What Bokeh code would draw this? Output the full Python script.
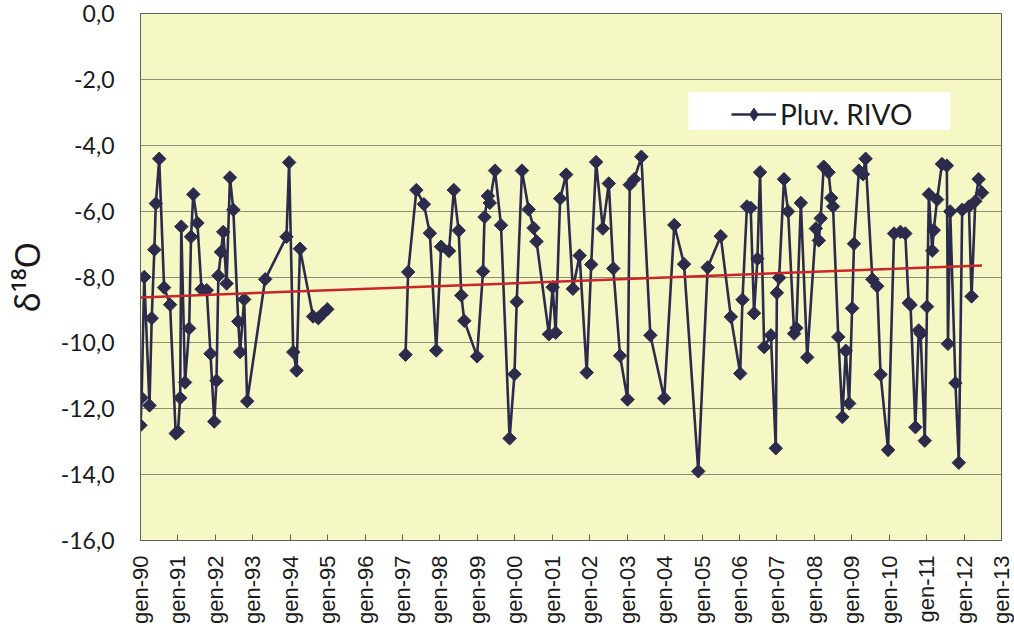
import math
from bokeh.plotting import figure
from bokeh.models import (FixedTicker, Range1d, BoxAnnotation, Legend,
                          LegendItem, ColumnDataSource)
from bokeh.embed import file_html
from bokeh.resources import INLINE

# ---- data (decimal years, delta 18O permil) ----
years_a = [1990.00, 1990.03, 1990.10, 1990.24, 1990.30, 1990.37, 1990.41, 1990.50,
           1990.63, 1990.79, 1990.94, 1991.00, 1991.06, 1991.09, 1991.19, 1991.30,
           1991.35, 1991.41, 1991.52, 1991.63, 1991.77, 1991.87, 1991.97, 1992.03,
           1992.08, 1992.15, 1992.21, 1992.30, 1992.39, 1992.48, 1992.61, 1992.66,
           1992.77, 1992.85, 1993.33, 1993.90, 1993.97, 1994.08, 1994.17, 1994.26,
           1994.61, 1994.75, 1994.88, 1994.99]
d18o_a = [-12.50, -11.67, -8.00, -11.90, -9.25, -7.17, -5.77, -4.41,
          -8.32, -8.84, -12.75, -12.70, -11.67, -6.47, -11.20, -9.56,
          -6.78, -5.49, -6.36, -8.37, -8.40, -10.33, -12.39, -11.15,
          -7.96, -7.24, -6.63, -8.20, -4.98, -5.96, -9.35, -10.28,
          -8.68, -11.77, -8.07, -6.78, -4.52, -10.28, -10.84, -7.14,
          -9.20, -9.25, -9.10, -8.98]

years_b = [1997.08, 1997.15, 1997.37, 1997.57, 1997.73, 1997.90, 1998.03, 1998.24,
           1998.37, 1998.50, 1998.57, 1998.65, 1998.99, 1999.15, 1999.19, 1999.28,
           1999.33, 1999.47, 1999.63, 1999.86, 1999.99, 2000.05, 2000.19, 2000.37,
           2000.50, 2000.58, 2000.91, 2001.01, 2001.09, 2001.21, 2001.37, 2001.55,
           2001.73, 2001.92, 2002.04, 2002.17, 2002.35, 2002.51, 2002.63, 2002.81,
           2003.01, 2003.07, 2003.19, 2003.38, 2003.62, 2003.99, 2004.26, 2004.52,
           2004.90, 2005.15, 2005.50, 2005.77, 2006.02, 2006.08, 2006.20, 2006.30,
           2006.39, 2006.48, 2006.55, 2006.66, 2006.84, 2006.97, 2007.00, 2007.06,
           2007.19, 2007.30, 2007.46, 2007.52, 2007.64, 2007.81, 2008.04, 2008.12,
           2008.17, 2008.25, 2008.38, 2008.45, 2008.50, 2008.64, 2008.75, 2008.84,
           2008.93, 2009.01, 2009.06, 2009.19, 2009.30, 2009.37, 2009.55, 2009.68,
           2009.77, 2009.97, 2010.13, 2010.30, 2010.43, 2010.52, 2010.57, 2010.70,
           2010.79, 2010.84, 2010.95, 2011.01, 2011.06, 2011.15, 2011.19, 2011.28,
           2011.41, 2011.54, 2011.57, 2011.63, 2011.77, 2011.86, 2011.95, 2012.13,
           2012.20, 2012.30, 2012.39, 2012.48]
d18o_b = [-10.36, -7.85, -5.36, -5.79, -6.67, -10.23, -7.08, -7.21,
          -5.36, -6.59, -8.56, -9.33, -10.41, -7.83, -6.18, -5.54,
          -5.75, -4.77, -6.43, -12.90, -10.95, -8.75, -4.77, -5.95,
          -6.51, -6.92, -9.74, -8.31, -9.69, -5.62, -4.89, -8.36,
          -7.35, -10.90, -7.62, -4.51, -6.53, -5.16, -7.74, -10.39,
          -11.72, -5.20, -5.03, -4.35, -9.77, -11.68, -6.42, -7.61,
          -13.90, -7.71, -6.76, -9.21, -10.93, -8.69, -5.86, -5.90,
          -9.10, -7.45, -4.82, -10.13, -9.77, -13.20, -8.48, -8.02,
          -5.03, -6.01, -9.72, -9.55, -5.75, -10.44, -6.53, -6.89,
          -6.22, -4.65, -4.82, -5.60, -5.86, -9.82, -12.25, -10.24,
          -11.84, -8.95, -6.99, -4.77, -4.88, -4.41, -8.07, -8.28,
          -10.96, -13.25, -6.68, -6.63, -6.68, -8.79, -8.85, -12.56,
          -9.62, -9.72, -12.97, -8.90, -5.49, -7.20, -6.58, -5.65,
          -4.57, -4.62, -10.03, -6.01, -11.22, -13.64, -5.96, -5.86,
          -8.59, -5.70, -5.03, -5.44]

trend_years = [1990.00, 2012.48]
trend_d18o = [-8.62, -7.65]

series_name = "Pluv. RIVO"
y_label = "\u03b4\u00b9\u2078O"

x_ticks = list(range(1990, 2014))
x_tick_labels = ["gen-%02d" % (y % 100) for y in x_ticks]
y_ticks = [-16, -14, -12, -10, -8, -6, -4, -2, 0]
y_tick_labels = ["-16,0", "-14,0", "-12,0", "-10,0", "-8,0", "-6,0", "-4,0", "-2,0", "0,0"]

# ---- figure ----
NAVY = "#2D2B4C"
p = figure(frame_width=861, frame_height=527,
           min_border_left=137, min_border_top=13, min_border_right=16, min_border_bottom=98,
           x_range=Range1d(1990, 2013), y_range=Range1d(-16, 0),
           output_backend="svg", toolbar_location=None,
           background_fill_color="#F5F8C4", border_fill_color="white",
           outline_line_color="#5f5f5f", outline_line_width=1)

p.xgrid.grid_line_color = None
p.ygrid.grid_line_color = "#8d8e78"
p.ygrid.grid_line_width = 1
p.ygrid.ticker = FixedTicker(ticks=y_ticks)

p.xaxis.ticker = FixedTicker(ticks=x_ticks)
p.xaxis.major_label_overrides = {t: l for t, l in zip(x_ticks, x_tick_labels)}
p.xaxis.major_label_orientation = math.pi / 2
p.xaxis.major_label_text_font = "Liberation Sans"
p.xaxis.major_label_text_font_size = "22px"
p.xaxis.major_label_text_color = "#1a1a1a"
p.xaxis.major_label_standoff = 15
p.xaxis.major_tick_in = 6
p.xaxis.major_tick_out = 0
p.xaxis.minor_tick_line_color = None
p.xaxis.axis_line_color = "#5f5f5f"
p.xaxis.major_tick_line_color = "#5f5f5f"

p.yaxis.ticker = FixedTicker(ticks=y_ticks)
p.yaxis.major_label_overrides = {t: l for t, l in zip(y_ticks, y_tick_labels)}
p.yaxis.major_label_text_font = "Lato"
p.yaxis.major_label_text_font_size = "23px"
p.yaxis.major_label_text_color = "#1a1a1a"
p.yaxis.major_label_standoff = 26
p.yaxis.major_tick_in = 0
p.yaxis.major_tick_out = 0
p.yaxis.minor_tick_line_color = None
p.yaxis.axis_line_color = "#5f5f5f"
p.yaxis.axis_label = y_label
p.yaxis.axis_label_text_font = "Noto Sans"
p.yaxis.axis_label_text_font_size = "34px"
p.yaxis.axis_label_text_font_style = "normal"
p.yaxis.axis_label_text_color = "#1a1a1a"
p.yaxis.axis_label_standoff = 8

# legend background box
p.add_layout(BoxAnnotation(left=2004.64, right=2011.64, top=-2.39, bottom=-3.54,
                           fill_color="white", fill_alpha=1, line_color=None))

src_a = ColumnDataSource(dict(t=years_a, v=d18o_a))
src_b = ColumnDataSource(dict(t=years_b, v=d18o_b))

line_renderers = []
for src in (src_a, src_b):
    l = p.line("t", "v", source=src, line_color=NAVY, line_width=2.6)
    p.scatter("t", "v", source=src, marker="square", angle=math.pi / 4, size=9.5,
              fill_color=NAVY, line_color=NAVY)
    line_renderers.append(l)

# legend-only marker (diamond shape as in the plot); NaN so it draws nothing in the plot
legend_marker = p.scatter(x=[float("nan")], y=[float("nan")], marker="diamond", size=15,
                          fill_color=NAVY, line_color=NAVY)

p.line(trend_years, trend_d18o, line_color="#C8262A", line_width=2.5)

legend = Legend(items=[LegendItem(label=series_name,
                                  renderers=[line_renderers[0], legend_marker])],
                location=(591, 409), padding=5, margin=0,
                glyph_width=45, glyph_height=32, label_standoff=4,
                label_text_font="Lato", label_text_font_size="28px",
                label_text_color="#1a1a1a",
                background_fill_alpha=0, border_line_color=None)
p.add_layout(legend, "center")

open("out.html", "w").write(file_html(p, INLINE))
